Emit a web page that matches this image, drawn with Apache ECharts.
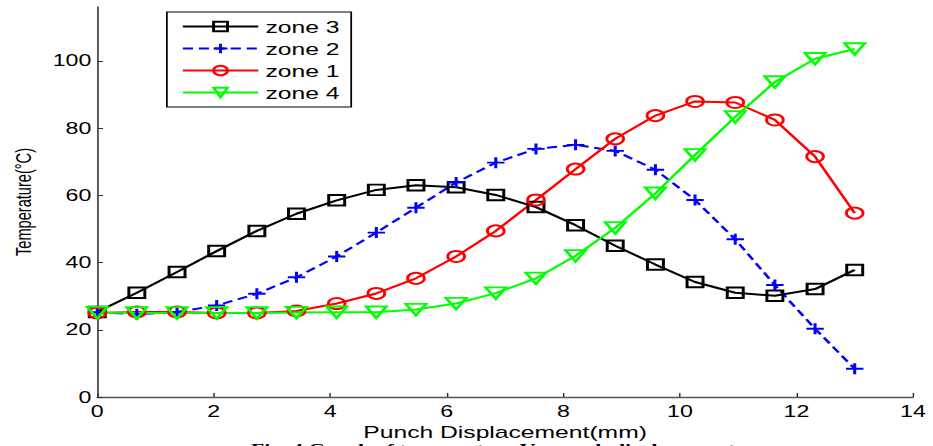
<!DOCTYPE html>
<html>
<head>
<meta charset="utf-8">
<script src="https://cdn.jsdelivr.net/npm/echarts@6/dist/echarts.min.js"></script>
<style>
html,body{margin:0;padding:0;background:#fff;}
#wrap{width:933px;height:446px;overflow:hidden;position:relative;}
#c{width:643px;height:446px;transform:scaleX(1.451);transform-origin:0 0;}
</style>
</head>
<body>
<div id="wrap"><div id="c"></div></div>
<script>
// Punch displacement (mm)
var xValues = [0, 0.68, 1.37, 2.05, 2.74, 3.42, 4.11, 4.79, 5.47, 6.16, 6.84, 7.53, 8.21, 8.89, 9.58, 10.26, 10.95, 11.63, 12.32, 13.0];
// Temperature (°C)
var zone3 = [25.3, 31.0, 37.2, 43.4, 49.4, 54.5, 58.5, 61.6, 63.0, 62.4, 60.1, 56.5, 51.1, 45.0, 39.4, 34.2, 31.0, 30.1, 32.1, 37.8];
var zone2 = [25.2, 24.6, 25.3, 27.2, 30.7, 35.6, 41.8, 48.9, 56.3, 63.8, 69.7, 73.8, 75.0, 73.2, 67.6, 58.6, 46.9, 33.3, 20.3, 8.4];
var zone1 = [25.0, 25.3, 25.3, 25.0, 25.0, 25.6, 27.8, 30.8, 35.3, 41.8, 49.4, 58.6, 67.8, 76.8, 83.7, 87.9, 87.6, 82.4, 71.5, 54.7];
var zone4 = [25.1, 25.0, 25.0, 25.0, 25.0, 25.1, 25.2, 25.2, 26.0, 27.8, 30.9, 35.3, 42.0, 50.3, 60.6, 72.0, 83.3, 93.7, 100.6, 103.5];
var yTicks = [0, 20, 40, 60, 80, 100];
var xTicks = [0, 2, 4, 6, 8, 10, 12, 14];
var seriesNames = ['zone 3', 'zone 2', 'zone 1', 'zone 4'];

function pairs(ys){ return xValues.map(function(x,i){ return [x, ys[i]]; }); }

var chart = echarts.init(document.getElementById('c'), null, {renderer:'svg'});
var font = 'Liberation Sans, Arial, sans-serif';
chart.setOption({
  animation: false,
  backgroundColor: '#fff',
  title: {
    text: 'Fig. 4 Graph of temperature Vs punch displacement',
    left: 173, top: 441, padding: 0,
    textStyle: {fontFamily: 'Liberation Serif, Times New Roman, serif', fontWeight: 'bold', fontSize: 15, color: '#000'}
  },
  grid: {left: 67, right: 13.8, top: 7, bottom: 49},
  legend: {
    orient: 'vertical', left: 115, top: 12,
    data: seriesNames,
    backgroundColor: '#fff',
    borderColor: '#000', borderWidth: 1.2,
    padding: [6, 8, 6, 10],
    itemWidth: 52, itemHeight: 12, itemGap: 5,
    textStyle: {fontFamily: font, fontSize: 17, color: '#000'}
  },
  xAxis: {
    type: 'value', min: 0, max: 14, interval: 2,
    axisLine: {show: true, lineStyle: {color: '#555', width: 1.3}},
    axisTick: {show: true, inside: true, length: 4, lineStyle: {color: '#333'}},
    axisLabel: {fontFamily: font, fontSize: 16, color: '#000', margin: 6, customValues: xTicks},
    splitLine: {show: false},
    name: 'Punch Displacement(mm)', nameLocation: 'middle', nameGap: 24,
    nameTextStyle: {fontFamily: font, fontSize: 17, color: '#000'}
  },
  yAxis: {
    type: 'value', min: 0, max: 116, interval: 20,
    axisLine: {show: true, lineStyle: {color: '#555', width: 1.3}},
    axisTick: {show: true, inside: true, length: 4, lineStyle: {color: '#333'}, customValues: yTicks},
    axisLabel: {fontFamily: font, fontSize: 16, color: '#000', margin: 4, customValues: yTicks},
    splitLine: {show: false},
    name: 'Temperature(°C)', nameLocation: 'middle', nameGap: 43,
    nameTextStyle: {fontFamily: font, fontSize: 14.6, color: '#000'}
  },
  series: [
    {
      name: 'zone 3', type: 'line', data: pairs(zone3),
      symbol: 'rect', symbolSize: [11, 10.5],
      lineStyle: {color: '#000', width: 2},
      itemStyle: {color: 'rgba(255,255,255,0)', borderColor: '#000', borderWidth: 2},
      emphasis: {disabled: true}
    },
    {
      name: 'zone 2', type: 'line', data: pairs(zone2),
      symbol: 'path://M0,5L10,5M5,0L5,10', symbolSize: [12, 11],
      lineStyle: {color: '#0000ff', width: 2, type: [7, 4]},
      itemStyle: {color: 'rgba(0,0,255,0)', borderColor: '#0000ff', borderWidth: 2},
      emphasis: {disabled: true}
    },
    {
      name: 'zone 1', type: 'line', data: pairs(zone1),
      symbol: 'circle', symbolSize: [11.5, 11],
      lineStyle: {color: '#ff0000', width: 2},
      itemStyle: {color: 'rgba(255,255,255,0)', borderColor: '#ff0000', borderWidth: 2},
      emphasis: {disabled: true}
    },
    {
      name: 'zone 4', type: 'line', data: pairs(zone4),
      symbol: 'triangle', symbolRotate: 180, symbolSize: [14, 11.5],
      lineStyle: {color: '#00ff00', width: 2},
      itemStyle: {color: 'rgba(255,255,255,0)', borderColor: '#00ff00', borderWidth: 2},
      emphasis: {disabled: true}
    }
  ]
});
</script>
</body>
</html>
